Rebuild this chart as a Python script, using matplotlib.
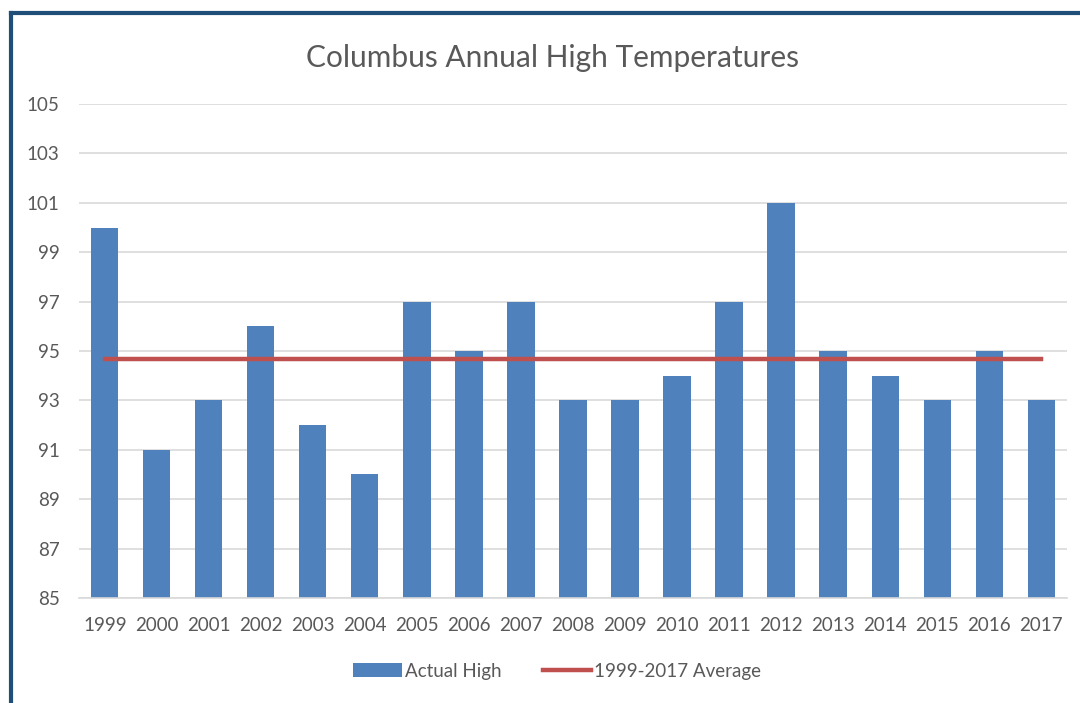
import matplotlib
matplotlib.use("Agg")
import matplotlib.pyplot as plt
from matplotlib.lines import Line2D

years = ["1999", "2000", "2001", "2002", "2003", "2004", "2005", "2006", "2007", "2008",
         "2009", "2010", "2011", "2012", "2013", "2014", "2015", "2016", "2017"]
actual_high = [100, 91, 93, 96, 92, 90, 97, 95, 97, 93, 93, 94, 97, 101, 95, 94, 93, 95, 93]
average_value = 94.68
average_line = [average_value] * len(years)
yticks = list(range(85, 106, 2))

plt.rcParams['font.family'] = ['Lato', 'DejaVu Sans']
text_color = "#595959"

fig = plt.figure(figsize=(10.8, 7.03), dpi=100)
ax = fig.add_axes([0.0731, 0.1494, 0.988 - 0.0731, 0.852 - 0.1494])

x = list(range(len(years)))
bars = ax.bar(x, [v - 85 for v in actual_high], bottom=85, width=0.52, color="#4F81BD",
              label="Actual High", zorder=2)
line, = ax.plot(x, average_line, color="#C0504D", linewidth=3.2, label="1999-2017 Average",
                zorder=3)

ax.set_ylim(85, 105)
ax.set_xlim(-0.5, len(years) - 0.5)
ax.set_yticks(yticks)
ax.set_xticks(x)
ax.set_xticklabels(years)
ax.tick_params(axis='both', length=0, labelsize=13.5, labelcolor=text_color)
ax.tick_params(axis='y', pad=14)
ax.tick_params(axis='x', pad=14)
ax.yaxis.grid(True, color="#D9D9D9", linewidth=1.2, zorder=0)
ax.set_axisbelow(True)
for s in ["top", "right", "left"]:
    ax.spines[s].set_visible(False)
ax.spines["bottom"].set_color("#D9D9D9")
ax.spines["bottom"].set_linewidth(1.2)

fig.text(0.512, 0.918, "Columbus Annual High Temperatures", ha="center", va="center",
         fontsize=21.5, color=text_color)

leg = fig.legend([bars, line], ["Actual High", "1999-2017 Average"], loc="center",
                 bbox_to_anchor=(0.516, 0.0455), ncol=2, frameon=False,
                 fontsize=13.5, handlelength=2.6, handletextpad=0.15, columnspacing=2.2)
for t in leg.get_texts():
    t.set_color(text_color)

border = "#1F4E79"
fig.add_artist(Line2D([11 / 1080, 11 / 1080], [0, 1 - 13 / 703], transform=fig.transFigure,
                      color=border, linewidth=3, solid_capstyle="projecting"))
fig.add_artist(Line2D([11 / 1080, 1], [1 - 13 / 703, 1 - 13 / 703], transform=fig.transFigure,
                      color=border, linewidth=3, solid_capstyle="projecting"))

fig.savefig("out.png", dpi=100, facecolor="white")
